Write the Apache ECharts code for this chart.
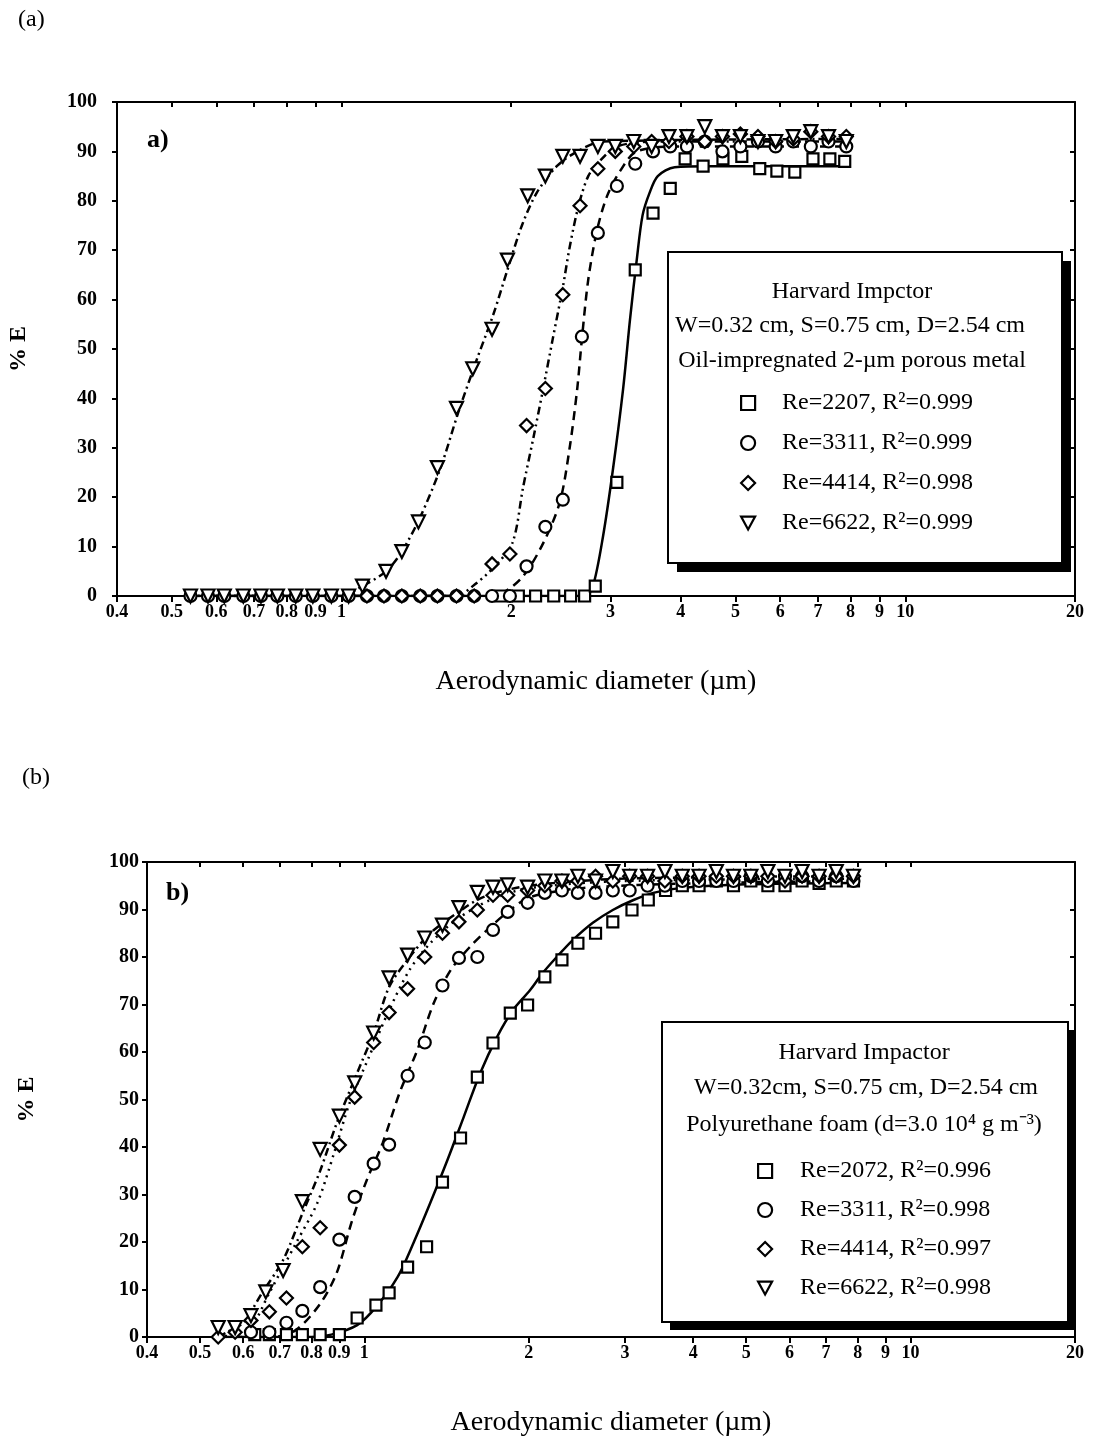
<!DOCTYPE html>
<html>
<head>
<meta charset="utf-8">
<script src="https://cdn.jsdelivr.net/npm/echarts@6/dist/echarts.min.js"></script>
<style>
html,body{margin:0;padding:0;background:#fff;}
#chart{width:1099px;height:1448px;}
</style>
</head>
<body>
<div id="chart"></div>
<script>
// ---------- tick labels ----------
const xTickValues = [0.4,0.5,0.6,0.7,0.8,0.9,1,2,3,4,5,6,7,8,9,10,20];
const xTickLabels = ['0.4','0.5','0.6','0.7','0.8','0.9','1','2','3','4','5','6','7','8','9','10','20'];

// ---------- panel (a): measured points ----------
const aSqX = [1.92,2.06,2.21,2.38,2.55,2.70,2.82,3.08,3.32,3.57,3.83,4.07,4.38,4.75,5.13,5.52,5.92,6.37,6.86,7.35,7.81];
const aSqY = [0,0,0,0,0,0,2,23,66,77.5,82.5,88.5,87,88.5,89,86.5,86,85.8,88.5,88.5,88];
const aCiX = [0.54,0.58,0.62,0.67,0.72,0.77,0.83,0.89,0.96,1.03,1.11,1.19,1.28,1.38,1.48,1.60,1.72,1.85,1.99,2.13,2.30,2.47,2.67,2.85,3.08,3.32,3.57,3.83,4.10,4.41,4.74,5.10,5.48,5.89,6.33,6.80,7.31,7.86];
const aCiY = [0,0,0,0,0,0,0,0,0,0,0,0,0,0,0,0,0,0,0,6,14,19.5,52.5,73.5,83,87.5,90,91,91,92,90,91,92,91,92,91,92,91];
const aDiX = [1.11,1.19,1.28,1.38,1.48,1.60,1.72,1.85,1.99,2.13,2.30,2.47,2.65,2.85,3.06,3.30,3.55,3.81,4.10,4.41,4.74,5.10,5.48,5.89,6.33,6.80,7.31,7.86];
const aDiY = [0,0,0,0,0,0,0,6.5,8.5,34.5,42,61,79,86.5,90,91,92,92,93,92,93,93.5,93,92,92.5,94,93,93];
const aTrX = [0.54,0.58,0.62,0.67,0.72,0.77,0.83,0.89,0.96,1.03,1.09,1.20,1.28,1.37,1.48,1.60,1.71,1.85,1.97,2.14,2.30,2.47,2.65,2.85,3.06,3.30,3.55,3.81,4.10,4.41,4.74,5.10,5.48,5.89,6.33,6.80,7.31,7.86];
const aTrY = [0,0,0,0,0,0,0,0,0,0,2,5,9,15,26,38,46,54,68,81,85,89,89,91,91,92,91,93,93,95,93,93,92,92,93,94,93,92];

// ---------- panel (a): fitted curves ----------
const aFitSqX = [0.53,2.70,2.79,2.91,3.03,3.16,3.25,3.34,3.42,3.52,3.64,3.90,4.50,7.90];
const aFitSqY = [0,0,1.8,12,25.5,42,56,68,77,81.6,85,86.8,87,87];
const aFitCiX = [0.53,1.80,1.93,2.10,2.28,2.44,2.54,2.62,2.67,2.74,2.84,2.96,3.12,3.34,4.00,7.90];
const aFitCiY = [0,0,0.6,4,10.7,19,30,42,52,64,74,81,86,90,91,91];
const aFitDiX = [0.53,1.60,1.71,1.86,2.01,2.10,2.19,2.28,2.37,2.47,2.54,2.63,2.74,2.87,3.08,3.60,7.90];
const aFitDiY = [0,0,2,5.7,10.7,22,32,42,52,62.5,70.6,78.7,85,88,91,92,92];
const aFitTrX = [0.53,1.00,1.09,1.20,1.28,1.38,1.50,1.61,1.74,1.86,1.97,2.09,2.22,2.41,2.62,2.91,7.90];
const aFitTrY = [0,0,2,5,9,16,26,37,48,57,66,75,81.6,87,90,92,92.5];

// ---------- panel (b): measured points ----------
const bSqX = [0.63,0.67,0.72,0.77,0.83,0.90,0.97,1.05,1.11,1.20,1.30,1.39,1.50,1.61,1.72,1.85,1.99,2.14,2.30,2.46,2.65,2.85,3.09,3.31,3.56,3.82,4.10,4.41,4.74,5.10,5.48,5.89,6.33,6.80,7.31,7.86];
const bSqY = [0.5,0.5,0.5,0.5,0.5,0.5,4,6.7,9.3,14.7,19,32.6,41.9,54.7,61.9,68.2,69.9,75.8,79.4,82.9,85,87.4,89.9,92,94,95,95,96,95,96,95,95,96,95.5,96,96];
const bCiX = [0.62,0.67,0.72,0.77,0.83,0.90,0.96,1.04,1.11,1.20,1.29,1.39,1.49,1.61,1.72,1.83,1.99,2.14,2.30,2.46,2.65,2.85,3.06,3.30,3.55,3.82,4.10,4.41,4.74,5.10,5.48,5.89,6.33,6.80,7.31,7.86];
const bCiY = [1,1,3,5.5,10.5,20.5,29.5,36.5,40.5,55,62,74,79.8,80,85.7,89.5,91.4,93.5,94,93.5,93.5,94,94,95,95,96,96,96,96,97,96,97,97,96,97,96];
const bDiX = [0.54,0.58,0.62,0.67,0.72,0.77,0.83,0.90,0.96,1.04,1.11,1.20,1.29,1.39,1.49,1.61,1.72,1.83,1.99,2.14,2.30,2.46,2.65,2.85,3.06,3.30,3.55,3.82,4.10,4.41,4.74,5.10,5.48,5.89,6.33,6.80,7.31,7.86];
const bDiY = [0,1,3.5,5.3,8.2,19,23,40.4,50.5,62,68.3,73.3,80,85,87.4,89.9,93,93,94,95,96,96,97,96,97,97,96,97,97,97,97,97,97,96,97,97,97,97];
const bTrX = [0.54,0.58,0.62,0.66,0.71,0.77,0.83,0.90,0.96,1.04,1.11,1.20,1.29,1.39,1.49,1.61,1.72,1.83,1.99,2.14,2.30,2.46,2.65,2.85,3.06,3.30,3.55,3.82,4.10,4.41,4.74,5.10,5.48,5.89,6.33,6.80,7.31,7.86];
const bTrY = [2,2,4.5,9.5,14,28.5,39.5,46.5,53.5,64,75.6,80.4,84,86.7,90.4,93.6,94.7,95.2,94.7,96,96,97,96,98,97,97,98,97,97,98,97,97,98,97,98,97,98,97];

// ---------- panel (b): fitted curves ----------
const bFitSqX = [0.54,0.80,0.87,0.97,1.05,1.15,1.23,1.32,1.42,1.52,1.63,1.75,1.87,2.01,2.12,2.25,2.41,2.62,2.85,3.11,3.38,3.78,5.00,7.86];
const bFitSqY = [0,0,0.5,2.5,6.3,12.6,19.8,28.2,37.3,46.3,55.6,63.2,68.8,73,76.6,80,83.6,87.2,89.9,92,93.5,94.5,95.3,95.6];
const bFitCiX = [0.54,0.68,0.75,0.83,0.89,0.95,1.01,1.08,1.16,1.25,1.34,1.44,1.56,1.70,1.85,2.01,2.50,4.00,7.86];
const bFitCiY = [0,0,1.5,7,13.5,24.6,33,40.8,51.4,60.4,70.3,77.3,82.1,86.3,89.9,92.6,94.5,95.5,96];
const bFitDiX = [0.54,0.58,0.62,0.67,0.75,0.82,0.88,0.94,1.02,1.11,1.21,1.32,1.48,1.70,2.00,3.00,7.86];
const bFitDiY = [0,0.5,2,9.3,19.8,28.2,38.7,49.3,59,68.8,77.3,82.9,88,92,94.5,96,96.5];
const bFitTrX = [0.54,0.56,0.60,0.65,0.71,0.77,0.83,0.89,0.97,1.04,1.11,1.20,1.32,1.48,1.65,2.00,3.00,7.86];
const bFitTrY = [0,1,3,9.3,16.2,26,35,45,55.6,64,73.7,79.4,85,89.3,92.6,95,96.5,97];

// ---------- names / texts ----------
const aNames = ['Re=2207, R\u00B2=0.999','Re=3311, R\u00B2=0.999','Re=4414, R\u00B2=0.998','Re=6622, R\u00B2=0.999'];
const bNames = ['Re=2072, R\u00B2=0.996','Re=3311, R\u00B2=0.998','Re=4414, R\u00B2=0.997','Re=6622, R\u00B2=0.998'];
const aHeader = ['Harvard Impctor','W=0.32 cm, S=0.75 cm, D=2.54 cm','Oil-impregnated 2-\u00B5m porous metal'];
const bHeader = ['Harvard Impactor','W=0.32cm, S=0.75 cm, D=2.54 cm','Polyurethane foam (d=3.0 10\u2074 g m\u207B\u00B3)'];

const FONT = '"Liberation Serif", "Times New Roman", serif';
const DOWN_TRI = 'path://M0,0L12,0L6,11Z';
function zip(xs, ys){ return xs.map((x,i)=>[x, ys[i]]); }
function fmtX(v){
  let best = 0, bd = Infinity;
  xTickValues.forEach((t,i)=>{ const d = Math.abs(t - v); if(d < bd){bd = d; best = i;} });
  return xTickLabels[best];
}

const grids = [
  {left:117, top:102, width:958, height:494, containLabel:false, outerBoundsMode:'none'},
  {left:147, top:862, width:928, height:475, containLabel:false, outerBoundsMode:'none'}
];

function xAxes(gi){
  return [
    {
      type:'log', logBase:10, min:0.4, max:20, gridIndex:gi, position:'bottom',
      axisLine:{onZero:false, lineStyle:{color:'#000', width:2}},
      axisTick:{customValues:xTickValues, length:6, lineStyle:{color:'#000', width:2}},
      axisLabel:{customValues:xTickValues, formatter:fmtX, fontFamily:FONT, fontWeight:'bold', fontSize:18, color:'#000', margin:7},
      splitLine:{show:false},
      name:'Aerodynamic diameter (\u00B5m)', nameLocation:'middle', nameGap:72,
      nameTextStyle:{fontFamily:FONT, fontSize:28, color:'#000'}
    },
    {
      type:'log', logBase:10, min:0.4, max:20, gridIndex:gi, position:'top',
      axisLine:{onZero:false, lineStyle:{color:'#000', width:2}},
      axisTick:{customValues:xTickValues, inside:true, length:5, lineStyle:{color:'#000', width:2}},
      axisLabel:{show:false}, splitLine:{show:false}
    }
  ];
}
function yAxes(gi, gap, margin){
  return [
    {
      type:'value', min:0, max:100, interval:10, gridIndex:gi, position:'left',
      axisLine:{show:true, onZero:false, lineStyle:{color:'#000', width:2}},
      axisTick:{show:true, length:5, lineStyle:{color:'#000', width:2}},
      axisLabel:{fontFamily:FONT, fontWeight:'bold', fontSize:20, color:'#000', margin:margin},
      splitLine:{show:false},
      name:'% E', nameLocation:'middle', nameGap:gap, nameRotate:90,
      nameTextStyle:{fontFamily:FONT, fontWeight:'bold', fontSize:24, color:'#000'}
    },
    {
      type:'value', min:0, max:100, interval:10, gridIndex:gi, position:'right',
      axisLine:{show:true, onZero:false, lineStyle:{color:'#000', width:2}},
      axisTick:{show:true, inside:true, length:5, lineStyle:{color:'#000', width:2}},
      axisLabel:{show:false}, splitLine:{show:false}
    }
  ];
}

const symbols = [
  {symbol:'rect', rotate:0, size:11},
  {symbol:'circle', rotate:0, size:12},
  {symbol:'diamond', rotate:0, size:13},
  {symbol:'triangle', rotate:180, size:13}
];

function scatter(name, xs, ys, k, xi, yi){
  return {
    name, type:'scatter', xAxisIndex:xi, yAxisIndex:yi, data:zip(xs,ys),
    symbol:symbols[k].symbol, symbolRotate:symbols[k].rotate, symbolSize:symbols[k].size,
    itemStyle:{color:'#fff', borderColor:'#000', borderWidth:2.2, opacity:1},
    z:4, emphasis:{disabled:true}
  };
}
function fit(name, xs, ys, dash, xi, yi){
  return {
    name, type:'line', xAxisIndex:xi, yAxisIndex:yi, data:zip(xs,ys),
    showSymbol:false, symbol:'none', smooth:0.3,
    lineStyle:{color:'#000', width:2.5, type:dash},
    z:3, emphasis:{disabled:true}, silent:true
  };
}

const series = [
  fit('fa1', aFitSqX, aFitSqY, 'solid', 0, 0),
  fit('fa2', aFitCiX, aFitCiY, [9,6], 0, 0),
  fit('fa3', aFitDiX, aFitDiY, [8,4,2,4,2,4], 0, 0),
  fit('fa4', aFitTrX, aFitTrY, [8,4,2,4], 0, 0),
  scatter(aNames[0], aSqX, aSqY, 0, 0, 0),
  scatter(aNames[1], aCiX, aCiY, 1, 0, 0),
  scatter(aNames[2], aDiX, aDiY, 2, 0, 0),
  scatter(aNames[3], aTrX, aTrY, 3, 0, 0),
  fit('fb1', bFitSqX, bFitSqY, 'solid', 2, 2),
  fit('fb2', bFitCiX, bFitCiY, [9,6], 2, 2),
  fit('fb3', bFitDiX, bFitDiY, [2,5], 2, 2),
  fit('fb4', bFitTrX, bFitTrY, [8,4,2,4], 2, 2),
  scatter(bNames[0], bSqX, bSqY, 0, 2, 2),
  scatter(bNames[1], bCiX, bCiY, 1, 2, 2),
  scatter(bNames[2], bDiX, bDiY, 2, 2, 2),
  scatter(bNames[3], bTrX, bTrY, 3, 2, 2)
];

function legend(names, left, top, gap, pad){
  return {
    data:names.map((n,i)=> i === 3 ? {name:n, icon:DOWN_TRI} : {name:n}),
    orient:'vertical', left, top, itemWidth:14, itemHeight:14, itemGap:gap,
    selectedMode:false, z:10,
    itemStyle:{color:'#fff', borderColor:'#000', borderWidth:2.2},
    textStyle:{fontFamily:FONT, fontSize:24, color:'#000', lineHeight:24, padding:[0,0,0,pad]}
  };
}

function box(x, y, w, h, sh){
  return [
    {type:'rect', shape:{x:x+sh, y:y+sh, width:w, height:h}, style:{fill:'#000'}, z:5},
    {type:'rect', shape:{x, y, width:w, height:h}, style:{fill:'#fff', stroke:'#000', lineWidth:2}, z:6}
  ];
}
function txt(t, x, y, size, align, weight){
  return {type:'text', x, y, z:11,
    style:{text:t, fontFamily:FONT, fontSize:size, fontWeight:weight||'normal', fill:'#000',
      textAlign:align||'center', textVerticalAlign:'middle'}};
}

const graphic = [].concat(
  box(668, 252, 394, 311, 9),
  box(662, 1022, 406, 300, 8),
  [
    txt(aHeader[0], 852, 292, 24),
    txt(aHeader[1], 850, 326, 24),
    txt(aHeader[2], 852, 361, 24),
    txt(bHeader[0], 864, 1053, 24),
    txt(bHeader[1], 866, 1088, 24),
    txt(bHeader[2], 864, 1125, 24),
    txt('(a)', 18, 20, 24, 'left'),
    txt('(b)', 22, 778, 24, 'left'),
    txt('a)', 147, 140, 26, 'left', 'bold'),
    txt('b)', 166, 893, 26, 'left', 'bold')
  ]
);

const chart = echarts.init(document.getElementById('chart'), null, {renderer:'canvas'});
chart.setOption({
  backgroundColor:'#fff',
  animation:false,
  grid:grids,
  xAxis:[].concat(xAxes(0), xAxes(1)),
  yAxis:[].concat(yAxes(0, 86, 20), yAxes(1, 108, 8)),
  legend:[legend(aNames, 735, 386, 16, 22), legend(bNames, 752, 1154, 15, 23)],
  graphic,
  series
});
</script>
</body>
</html>
